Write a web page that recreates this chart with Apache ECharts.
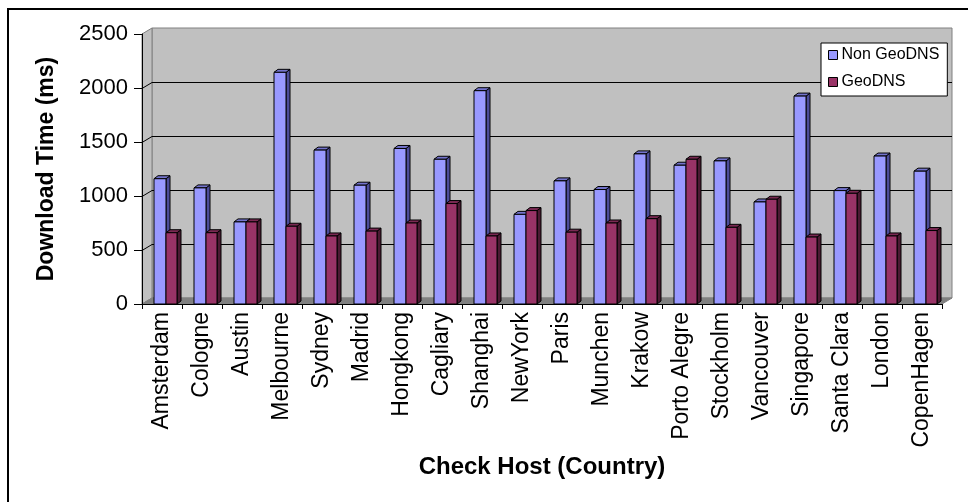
<!DOCTYPE html>
<html>
<head>
<meta charset="utf-8">
<script src="https://cdn.jsdelivr.net/npm/echarts@6/dist/echarts.min.js"></script>
<style>
  html, body { margin: 0; padding: 0; background: #ffffff; }
  #chart { width: 968px; height: 502px; }
</style>
</head>
<body>
<div id="chart"></div>
<script>
// Download time per check host, with and without GeoDNS
const hosts = ['Amsterdam', 'Cologne', 'Austin', 'Melbourne', 'Sydney', 'Madrid', 'Hongkong',
  'Cagliary', 'Shanghai', 'NewYork', 'Paris', 'Munchen', 'Krakow', 'Porto Alegre',
  'Stockholm', 'Vancouver', 'Singapore', 'Santa Clara', 'London', 'CopenHagen'];
const nonGeoDns = [1160, 1075, 760, 2145, 1425, 1100, 1440, 1340, 1975, 830,
  1140, 1060, 1390, 1285, 1325, 945, 1925, 1050, 1370, 1230];
const geoDns = [660, 660, 760, 720, 630, 675, 750, 930, 630, 865,
  665, 750, 790, 1340, 710, 970, 620, 1025, 630, 680];
const yTicks = [0, 500, 1000, 1500, 2000, 2500];

const FONT = 'Arial, "Liberation Sans", sans-serif';
const WALL_DX = 10, WALL_DY = -6;   // depth of the chart box
const BAR_DX = 4, BAR_DY = -3;      // depth of each column

// Back wall, left wall, floor and gridlines of the 3D box
function renderWalls(params, api) {
  const cs = params.coordSys;
  const x0 = cs.x, x1 = cs.x + cs.width;
  const yMax = yTicks[yTicks.length - 1];
  const yTop = api.coord([0, yMax])[1];
  const yBase = api.coord([0, 0])[1];
  const children = [];
  // back wall
  children.push({
    type: 'polygon',
    shape: { points: [[x0 + WALL_DX, yTop + WALL_DY], [x1 + WALL_DX, yTop + WALL_DY],
      [x1 + WALL_DX, yBase + WALL_DY], [x0 + WALL_DX, yBase + WALL_DY]] },
    style: { fill: '#c0c0c0', stroke: '#808080', lineWidth: 1 }
  });
  // left wall
  children.push({
    type: 'polygon',
    shape: { points: [[x0, yTop], [x0 + WALL_DX, yTop + WALL_DY],
      [x0 + WALL_DX, yBase + WALL_DY], [x0, yBase]] },
    style: { fill: '#c0c0c0', stroke: '#808080', lineWidth: 1 }
  });
  // floor
  children.push({
    type: 'polygon',
    shape: { points: [[x0, yBase], [x1, yBase], [x1 + WALL_DX, yBase + WALL_DY], [x0 + WALL_DX, yBase + WALL_DY]] },
    style: { fill: '#808080', stroke: '#808080', lineWidth: 1 }
  });
  // gridlines
  yTicks.forEach(function (v) {
    if (v === 0 || v === yMax) return;
    const y = Math.round(api.coord([0, v])[1]) + 0.5;
    children.push({
      type: 'polyline',
      shape: { points: [[x0, y], [x0 + WALL_DX, y + WALL_DY], [x1 + WALL_DX, y + WALL_DY]] },
      style: { stroke: '#000000', lineWidth: 1, fill: null }
    });
  });
  return { type: 'group', children: children };
}

// One 3D column: side face, top face, front face
function columnRenderer(offsetFrac, widthFrac, colors) {
  return function (params, api) {
    const idx = api.value(0);
    const top = api.coord([idx, api.value(1)]);
    const base = api.coord([idx, 0]);
    const bw = api.size([1, 0])[0];
    const xL = top[0] + offsetFrac * bw;
    const xR = xL + widthFrac * bw;
    const yT = top[1], yB = base[1];
    return {
      type: 'group',
      children: [
        { type: 'polygon',
          shape: { points: [[xR, yB], [xR + BAR_DX, yB + BAR_DY], [xR + BAR_DX, yT + BAR_DY], [xR, yT]] },
          style: { fill: colors.side, stroke: '#000000', lineWidth: 1 } },
        { type: 'polygon',
          shape: { points: [[xL, yT], [xL + BAR_DX, yT + BAR_DY], [xR + BAR_DX, yT + BAR_DY], [xR, yT]] },
          style: { fill: colors.top, stroke: '#000000', lineWidth: 1 } },
        { type: 'rect',
          shape: { x: xL, y: yT, width: xR - xL, height: yB - yT },
          style: { fill: colors.front, stroke: '#000000', lineWidth: 1 } }
      ]
    };
  };
}

const blue = { front: '#9999ff', side: '#4c4c99', top: '#7373cc' };
const plum = { front: '#993366', side: '#4d1a33', top: '#7a2952' };

const chart = echarts.init(document.getElementById('chart'), null, { renderer: 'canvas' });
chart.setOption({
  animation: false,
  backgroundColor: '#ffffff',
  textStyle: { fontFamily: FONT },
  grid: { left: 142, right: 26, top: 34, bottom: 198 },
  legend: {
    orient: 'vertical',
    left: 821, top: 43,
    padding: [4, 8, 6, 7],
    backgroundColor: '#ffffff',
    borderColor: '#000000', borderWidth: 1,
    itemWidth: 9, itemHeight: 9, itemGap: 11,
    icon: 'rect',
    itemStyle: { borderColor: '#000000', borderWidth: 1 },
    textStyle: { fontFamily: FONT, fontSize: 16, color: '#000000', padding: [0, 0, 0, -1] },
    data: ['Non GeoDNS', 'GeoDNS']
  },
  xAxis: {
    type: 'category',
    data: hosts,
    z: 5,
    boundaryGap: true,
    axisLine: { show: true, lineStyle: { color: '#000000', width: 1 } },
    axisTick: { show: true, length: 5, lineStyle: { color: '#000000' } },
    axisLabel: { interval: 0, rotate: 90, margin: 8, fontSize: 23, color: '#000000', fontFamily: FONT },
    splitLine: { show: false },
    name: 'Check Host (Country)',
    nameLocation: 'middle',
    nameGap: 150,
    nameTextStyle: { fontSize: 24, fontWeight: 'bold', color: '#000000', fontFamily: FONT }
  },
  yAxis: {
    type: 'value',
    min: yTicks[0], max: yTicks[yTicks.length - 1], interval: 500,
    z: 5,
    axisLine: { show: true, lineStyle: { color: '#000000', width: 1 } },
    axisTick: { show: true, length: 8, lineStyle: { color: '#000000' } },
    axisLabel: { margin: 14, fontSize: 22, color: '#000000', fontFamily: FONT,
      formatter: function (v) { return String(v); } },
    splitLine: { show: false },
    name: 'Download Time (ms)',
    nameLocation: 'middle',
    nameGap: 84,
    nameTextStyle: { fontSize: 23, fontWeight: 'bold', color: '#000000', fontFamily: FONT }
  },
  graphic: [
    { type: 'line', shape: { x1: 7, y1: 9, x2: 968, y2: 9 }, style: { stroke: '#000000', lineWidth: 2 }, silent: true },
    { type: 'line', shape: { x1: 8, y1: 8, x2: 8, y2: 502 }, style: { stroke: '#000000', lineWidth: 2 }, silent: true }
  ],
  series: [
    {
      name: 'walls', type: 'custom', z: 1, silent: true,
      renderItem: renderWalls,
      data: [[0, 0]],
      encode: { x: 0, y: 1 }
    },
    {
      name: 'Non GeoDNS', type: 'custom', z: 2,
      itemStyle: { color: blue.front },
      renderItem: columnRenderer(-0.2, 0.3, blue),
      data: hosts.map(function (h, i) { return [i, nonGeoDns[i]]; }),
      encode: { x: 0, y: 1 }
    },
    {
      name: 'GeoDNS', type: 'custom', z: 3,
      itemStyle: { color: plum.front },
      renderItem: columnRenderer(0.1, 0.275, plum),
      data: hosts.map(function (h, i) { return [i, geoDns[i]]; }),
      encode: { x: 0, y: 1 }
    }
  ]
});
</script>
</body>
</html>
